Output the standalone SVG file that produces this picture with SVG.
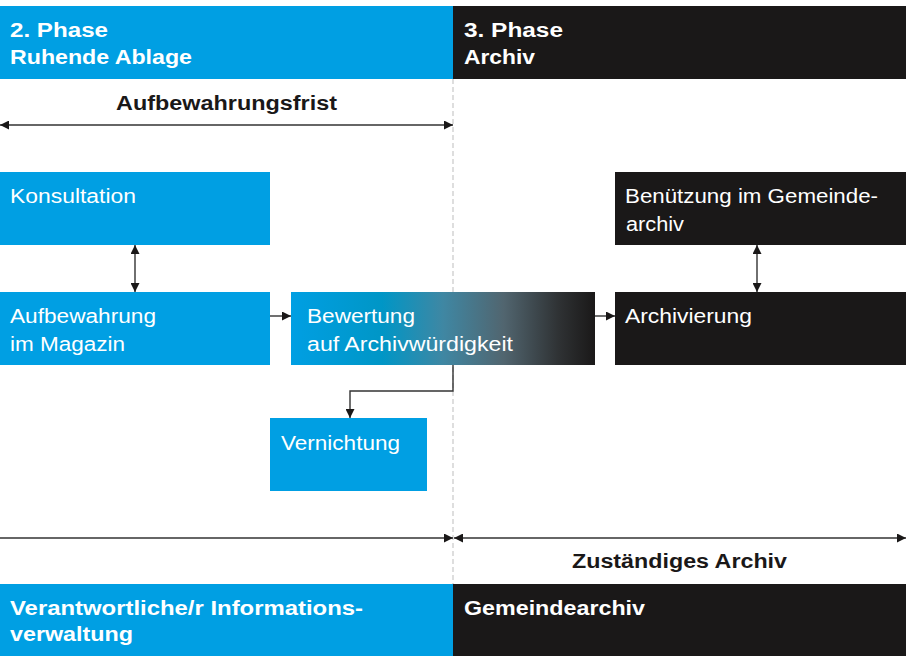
<svg xmlns="http://www.w3.org/2000/svg" width="906" height="656" viewBox="0 0 906 656">
<defs>
<linearGradient id="grad" x1="0" y1="0" x2="1" y2="0">
<stop offset="0" stop-color="#009fe3"/>
<stop offset="0.3" stop-color="#0096c6"/>
<stop offset="0.5" stop-color="#3f87a3"/>
<stop offset="0.7" stop-color="#51656f"/>
<stop offset="0.88" stop-color="#2f3234"/>
<stop offset="1" stop-color="#1a1818"/>
</linearGradient>
<marker id="ah" viewBox="0 0 10 10" refX="10" refY="5" markerWidth="9" markerHeight="9" markerUnits="userSpaceOnUse" orient="auto-start-reverse">
<path d="M0,0 L10,5 L0,10 z" fill="#1a1818"/>
</marker>
<style>
.blue{fill:#009fe3}
.black{fill:#1a1818}
.hd{font-family:"Liberation Sans",Arial,sans-serif;font-weight:bold;font-size:20px;fill:#fff}
.lb{font-family:"Liberation Sans",Arial,sans-serif;font-weight:bold;font-size:20px;fill:#1a1818}
.tx{font-family:"Liberation Sans",Arial,sans-serif;font-size:20px;fill:#fff}
.ln{stroke:#333;stroke-width:1.4;fill:none}
</style>
</defs>
<rect width="906" height="656" fill="#fff"/>
<g id="header-phase2">
<rect class="blue" x="0" y="6" width="453" height="73"/>
<text class="hd" x="10" y="37" textLength="98" lengthAdjust="spacingAndGlyphs">2. Phase</text>
<text class="hd" x="10" y="64" textLength="182" lengthAdjust="spacingAndGlyphs">Ruhende Ablage</text>
</g>
<g id="header-phase3">
<rect class="black" x="453" y="6" width="453" height="73"/>
<text class="hd" x="464" y="37" textLength="99" lengthAdjust="spacingAndGlyphs">3. Phase</text>
<text class="hd" x="464" y="64" textLength="71" lengthAdjust="spacingAndGlyphs">Archiv</text>
</g>
<line x1="453" y1="79" x2="453" y2="584" stroke="#c8c8c8" stroke-width="1.2" stroke-dasharray="5 3"/>
<g id="frist">
<text class="lb" x="116" y="110" textLength="221" lengthAdjust="spacingAndGlyphs">Aufbewahrungsfrist</text>
</g>
<g id="zustaendig">
<text class="lb" x="572" y="568" textLength="215" lengthAdjust="spacingAndGlyphs">Zuständiges Archiv</text>
</g>
<g id="konsultation">
<rect class="blue" x="0" y="172" width="270" height="73"/>
<text class="tx" x="10" y="203" textLength="126" lengthAdjust="spacingAndGlyphs">Konsultation</text>
</g>
<g id="aufbewahrung">
<rect class="blue" x="0" y="292" width="270" height="73"/>
<text class="tx" x="10" y="323" textLength="146" lengthAdjust="spacingAndGlyphs">Aufbewahrung</text>
<text class="tx" x="10" y="351" textLength="115" lengthAdjust="spacingAndGlyphs">im Magazin</text>
</g>
<g id="bewertung">
<rect fill="url(#grad)" x="291" y="292" width="304" height="73"/>
<text class="tx" x="307" y="323" textLength="108" lengthAdjust="spacingAndGlyphs">Bewertung</text>
<text class="tx" x="307" y="351" textLength="206" lengthAdjust="spacingAndGlyphs">auf Archivwürdigkeit</text>
</g>
<g id="vernichtung">
<rect class="blue" x="270" y="418" width="157" height="73"/>
<text class="tx" x="281" y="450" textLength="119" lengthAdjust="spacingAndGlyphs">Vernichtung</text>
</g>
<g id="benuetzung">
<rect class="black" x="615" y="172" width="291" height="73"/>
<text class="tx" x="625" y="203" textLength="253" lengthAdjust="spacingAndGlyphs">Benützung im Gemeinde-</text>
<text class="tx" x="626" y="231" textLength="58" lengthAdjust="spacingAndGlyphs">archiv</text>
</g>
<g id="archivierung">
<rect class="black" x="615" y="292" width="291" height="73"/>
<text class="tx" x="625" y="323" textLength="127" lengthAdjust="spacingAndGlyphs">Archivierung</text>
</g>
<g id="footer-left">
<rect class="blue" x="0" y="584" width="453" height="72"/>
<text class="hd" x="10" y="615" textLength="353" lengthAdjust="spacingAndGlyphs">Verantwortliche/r Informations-</text>
<text class="hd" x="10" y="641" textLength="123" lengthAdjust="spacingAndGlyphs">verwaltung</text>
</g>
<g id="footer-right">
<rect class="black" x="453" y="584" width="453" height="72"/>
<text class="hd" x="464" y="615" textLength="181" lengthAdjust="spacingAndGlyphs">Gemeindearchiv</text>
</g>
<g id="connectors">
<line class="ln" x1="0" y1="125" x2="453" y2="125" marker-start="url(#ah)" marker-end="url(#ah)"/>
<line class="ln" x1="0" y1="538" x2="453" y2="538" marker-end="url(#ah)"/>
<line class="ln" x1="454" y1="538" x2="906" y2="538" marker-start="url(#ah)" marker-end="url(#ah)"/>
<line class="ln" x1="135" y1="245" x2="135" y2="292" marker-start="url(#ah)" marker-end="url(#ah)"/>
<line class="ln" x1="757" y1="245" x2="757" y2="292" marker-start="url(#ah)" marker-end="url(#ah)"/>
<line class="ln" x1="270" y1="316" x2="291" y2="316" marker-end="url(#ah)"/>
<line class="ln" x1="595" y1="316" x2="615" y2="316" marker-end="url(#ah)"/>
<polyline class="ln" points="453,365 453,391 350,391 350,418" marker-end="url(#ah)"/>
</g>
</svg>
